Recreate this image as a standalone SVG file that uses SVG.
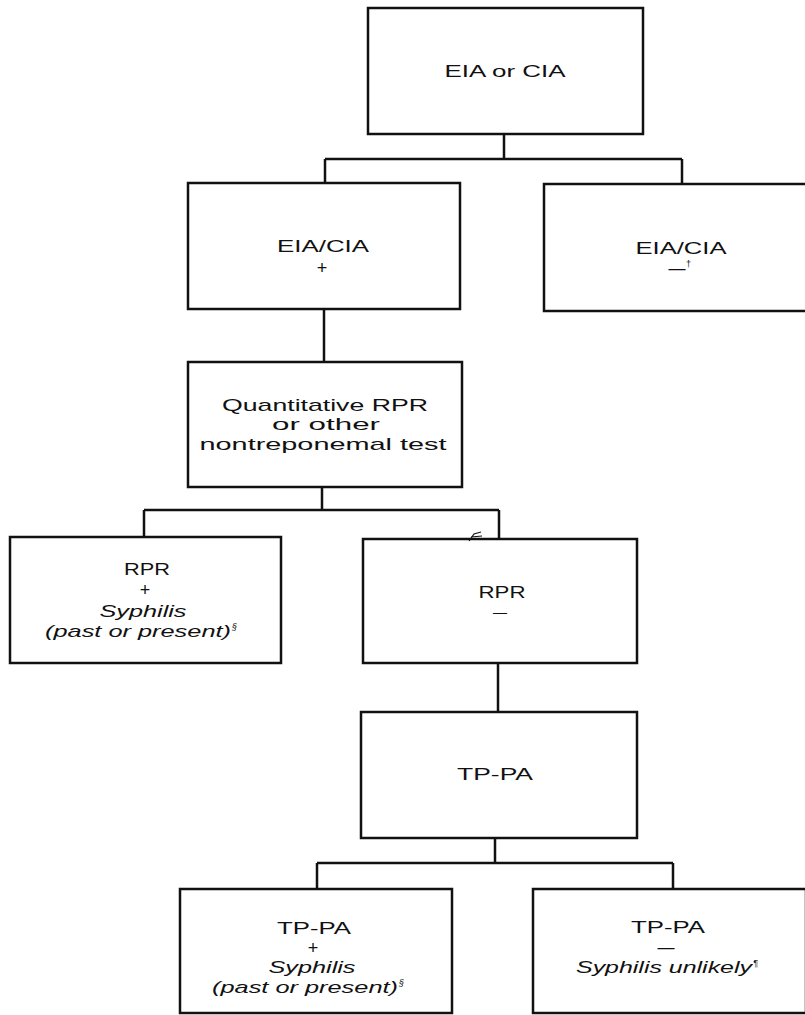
<svg xmlns="http://www.w3.org/2000/svg" width="805" height="1015" viewBox="0 0 805 1015">
<style>
.box{fill:#fff;stroke:#111;stroke-width:2.5}
.ln{fill:none;stroke:#111;stroke-width:2.5}
text{font-family:"Liberation Sans","Open Sans",Arial,sans-serif;font-size:17px;fill:#111;text-anchor:middle}
.it{font-style:italic}
.pl{font-size:18px}
.sup{font-size:9px;text-anchor:start}
</style>
<rect width="805" height="1015" fill="#fff"/>
<g id="connectors">
<path class="ln" d="M504,134V159M325,159H682M325,159V183M682,159V184"/>
<path class="ln" d="M324,309V362"/>
<path class="ln" d="M322,487V510M144,510H499M144,510V537M499,510V539"/>
<path class="ln" d="M498,663V712"/>
<path class="ln" d="M495,838V863M317,863H673M317,863V889M673,863V889"/>
</g>
<g id="n1"><rect class="box" x="368" y="8" width="275" height="126"/>
<text x="505" y="77" textLength="121" lengthAdjust="spacingAndGlyphs">EIA or CIA</text></g>
<g id="n2"><rect class="box" x="188" y="183" width="272" height="126"/>
<text x="323" y="252" textLength="92" lengthAdjust="spacingAndGlyphs">EIA/CIA</text>
<text class="pl" x="322" y="274">+</text></g>
<g id="n3"><rect class="box" x="544" y="184" width="263" height="127"/>
<text x="681" y="254" textLength="91" lengthAdjust="spacingAndGlyphs">EIA/CIA</text>
<text x="677" y="274">—</text><text class="sup" x="686" y="267">†</text></g>
<g id="n4"><rect class="box" x="188" y="362" width="274" height="125"/>
<text x="325" y="411" textLength="206" lengthAdjust="spacingAndGlyphs">Quantitative RPR</text>
<text x="326" y="430" textLength="108" lengthAdjust="spacingAndGlyphs">or other</text>
<text x="323" y="450" textLength="247" lengthAdjust="spacingAndGlyphs">nontreponemal test</text></g>
<g id="n5"><rect class="box" x="10" y="537" width="271" height="126"/>
<text x="147" y="575" textLength="46" lengthAdjust="spacingAndGlyphs">RPR</text>
<text class="pl" x="145" y="596">+</text>
<text class="it" x="143" y="617" textLength="87" lengthAdjust="spacingAndGlyphs">Syphilis</text>
<text class="it" x="138" y="637" textLength="186" lengthAdjust="spacingAndGlyphs">(past or present)</text><text class="sup it" x="232" y="630">§</text></g>
<g id="n6"><rect class="box" x="363" y="539" width="274" height="124"/>
<text x="502" y="598" textLength="47" lengthAdjust="spacingAndGlyphs">RPR</text>
<text x="500" y="617" style="font-size:14px">—</text>
<path d="M469,541L474,534L481,532M471,537L482,536" fill="none" stroke="#111" stroke-width="1.2"/></g>
<g id="n7"><rect class="box" x="361" y="712" width="276" height="126"/>
<text x="495" y="780" textLength="76" lengthAdjust="spacingAndGlyphs">TP-PA</text></g>
<g id="n8"><rect class="box" x="180" y="889" width="272" height="124"/>
<text x="314" y="934" textLength="74" lengthAdjust="spacingAndGlyphs">TP-PA</text>
<text class="pl" x="313" y="954">+</text>
<text class="it" x="312" y="973" textLength="87" lengthAdjust="spacingAndGlyphs">Syphilis</text>
<text class="it" x="305" y="993" textLength="186" lengthAdjust="spacingAndGlyphs">(past or present)</text><text class="sup it" x="399" y="986">§</text></g>
<g id="n9"><rect class="box" x="533" y="889" width="273" height="124"/>
<text x="668" y="933" textLength="74" lengthAdjust="spacingAndGlyphs">TP-PA</text>
<text x="666" y="953">—</text>
<text class="it" x="664" y="973" textLength="176" lengthAdjust="spacingAndGlyphs">Syphilis unlikely</text><text class="sup it" x="753" y="966">¶</text></g>
</svg>
